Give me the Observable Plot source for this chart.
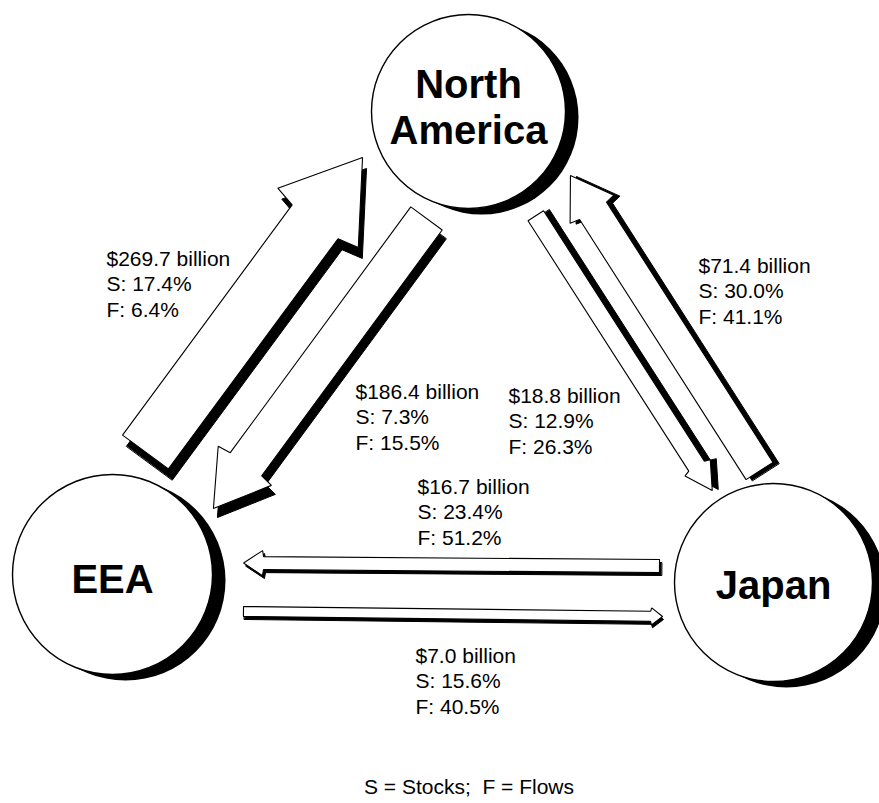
<!DOCTYPE html>
<html>
<head>
<meta charset="utf-8">
<script src="https://cdn.jsdelivr.net/npm/d3@7"></script>
<script src="https://cdn.jsdelivr.net/npm/@observablehq/plot@0.6"></script>
<style>
  html, body { margin: 0; padding: 0; background: #fff; }
  svg { display: block; }
</style>
</head>
<body>
<div id="chart"></div>
<script>
// ---------------- DATA ----------------
const regions = ["North America", "EEA", "Japan"];
const flowFrom = ["EEA", "North America", "North America", "Japan", "Japan", "EEA"];
const flowTo   = ["North America", "EEA", "Japan", "North America", "EEA", "Japan"];
const flowValue  = [269.7, 186.4, 18.8, 71.4, 16.7, 7.0];   // $ billion
const stockShare = [17.4, 7.3, 12.9, 30.0, 23.4, 15.6];     // S: %
const flowShare  = [6.4, 15.5, 26.3, 41.1, 51.2, 40.5];     // F: %
const legendNote = "S = Stocks;  F = Flows";

// ---------------- LAYOUT (positions / sizes / styles) ----------------
const W = 879, H = 803;
const FONT = "Liberation Sans, Arial, Helvetica, sans-serif";
const nodeLayout = {
  "North America": {x: 468, y: 111, r: 97, labelDy: -14},
  "EEA":           {x: 112, y: 574, r: 100, labelDy: 18},
  "Japan":         {x: 773, y: 582, r: 99, labelDy: 16}
};
const nodeShadow = [13, 6];
const nodeLineStep = 46;
// arrow placement relative to the line joining the two node centres
const arrowLayout = [
  {start: 117.2, laneStart: -48.5, end: 101.0, laneEnd: -56.0, width: 57, head: 50, headLen: 80, sweep: 5, shadow: [4, 11]},
  {start: 110.4, laneStart: -31.9, end: 113.8, laneEnd: -39.8, width: 39, head: 33, headLen: 55, sweep: 2, shadow: [4, 9]},
  {start: 124.1, laneStart: 0.2,   end: 110.5, laneEnd: 1.4,   width: 18.5, head: 15, headLen: 29, sweep: 2, shadow: [6, -1]},
  {start: 101.2, laneStart: 48.9,  end: 109.1, laneEnd: 50.8,  width: 32, head: 26, headLen: 42, sweep: 2, shadow: [6, 1]},
  {start: 114.2, laneStart: 15.1,  end: 130.9, laneEnd: 13.1,  width: 13, head: 12.5, headLen: 20, sweep: 1, shadow: [2, 3]},
  {start: 131.4, laneStart: 35.4,  end: 110.5, laneEnd: 35.3,  width: 10, head: 8.5, headLen: 12, sweep: 1, shadow: [1, 3]}
];
// label anchor: left x and first baseline
const labelLayout = [
  {x: 106, y: 265}, {x: 355, y: 398}, {x: 508, y: 402},
  {x: 698, y: 272}, {x: 417, y: 493}, {x: 415, y: 662}
];
const labelLineStep = 25.5;
const noteLayout = {x: 468.5, y: 793};

// ---------------- BUILD ----------------
const nodes = regions.map(name => ({name, ...nodeLayout[name]}));
const nodeLabelRows = nodes.flatMap(n => {
  const lines = n.name === "North America" ? n.name.split(" ") : [n.name];
  return lines.map((t, i) => ({text: t, x: n.x, y: n.y + n.labelDy + i * nodeLineStep}));
});

function arrowPoints(i) {
  const a = nodeLayout[flowFrom[i]], b = nodeLayout[flowTo[i]], L = arrowLayout[i];
  const dx = b.x - a.x, dy = b.y - a.y, len = Math.hypot(dx, dy);
  const ux = dx / len, uy = dy / len, nx = -uy, ny = ux;
  const T = [a.x + ux * L.start + nx * L.laneStart, a.y + uy * L.start + ny * L.laneStart];
  const P = [a.x + ux * (len - L.end) + nx * L.laneEnd, a.y + uy * (len - L.end) + ny * L.laneEnd];
  const ex = P[0] - T[0], ey = P[1] - T[1], al = Math.hypot(ex, ey);
  const vx = ex / al, vy = ey / al, mx = -vy, my = vx;
  const h = L.width / 2;
  const pt = (s, t) => [T[0] + vx * s + mx * t, T[1] + vy * s + my * t];
  const base = al - L.headLen;
  return [pt(0, h), pt(base, h), pt(base + L.sweep, L.head), pt(al, 0),
          pt(base + L.sweep, -L.head), pt(base, -h), pt(0, -h)];
}

const arrowRows = [], shadowRows = [];
flowValue.forEach((v, i) => {
  const pts = arrowPoints(i);
  const [sx, sy] = arrowLayout[i].shadow;
  pts.forEach(([x, y], k) => {
    arrowRows.push({id: i, k, x, y});
    shadowRows.push({id: i, k, x: x + sx, y: y + sy});
  });
});

const labelRows = flowValue.flatMap((v, i) => {
  const lines = [`$${v.toFixed(1)} billion`, `S: ${stockShare[i].toFixed(1)}%`, `F: ${flowShare[i].toFixed(1)}%`];
  return lines.map((t, j) => ({text: t, x: labelLayout[i].x, y: labelLayout[i].y + j * labelLineStep}));
});

const chart = Plot.plot({
  width: W,
  height: H,
  margin: 0,
  style: {background: "#fff", fontFamily: FONT, overflow: "visible"},
  x: {domain: [0, W], range: [0, W], axis: null},
  y: {domain: [0, H], range: [0, H], axis: null},
  r: {type: "identity"},
  marks: [
    // node shadows and discs
    Plot.dot(nodes, {x: d => d.x + nodeShadow[0], y: d => d.y + nodeShadow[1], r: "r", fill: "black", stroke: "none"}),
    Plot.dot(nodes, {x: "x", y: "y", r: "r", fill: "white", stroke: "black", strokeWidth: 1.4}),
    Plot.text(nodeLabelRows, {x: "x", y: "y", text: "text", fontSize: 40, fontWeight: "bold",
      lineAnchor: "bottom", textAnchor: "middle", fill: "black"}),
    // arrows: shadow then body
    Plot.line(shadowRows, {x: "x", y: "y", z: "id", curve: "linear-closed", fill: "black", stroke: "black", strokeWidth: 1}),
    Plot.line(arrowRows, {x: "x", y: "y", z: "id", curve: "linear-closed", fill: "white", stroke: "black",
      strokeWidth: 1.1, strokeLinejoin: "miter"}),
    // flow labels
    Plot.text(labelRows, {x: "x", y: "y", text: "text", fontSize: 21, textAnchor: "start",
      lineAnchor: "bottom", fill: "black"}),
    // legend note
    Plot.text([legendNote], {x: noteLayout.x, y: noteLayout.y, text: d => d, fontSize: 21,
      textAnchor: "middle", lineAnchor: "bottom", fill: "black"})
  ]
});
document.getElementById("chart").appendChild(chart);
</script>
</body>
</html>
